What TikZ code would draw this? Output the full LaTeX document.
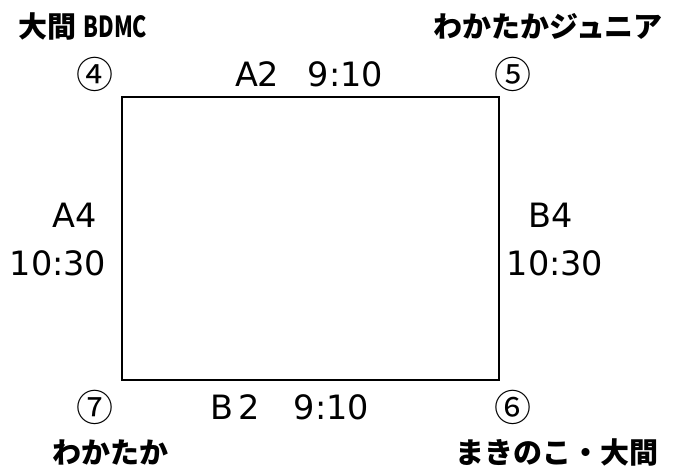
\documentclass[tikz,border=0pt]{standalone}
\usepackage{fontspec}
\setmainfont{Noto Sans CJK JP}
\newfontfamily\matchfont{DejaVu Sans}
\usetikzlibrary{positioning}

\begin{document}
\begin{tikzpicture}[x=1pt, y=-1pt]
\tikzstyle{court} = [rectangle, draw = black, line width=2pt, minimum width=377pt, minimum height=283pt, inner sep=0pt]
\tikzstyle{team} = [font=\fontsize{29}{31}\selectfont\bfseries, inner sep=0pt]
\tikzstyle{corner} = [font=\fontsize{37}{39}\selectfont, inner sep=0pt]
\tikzstyle{match} = [font=\fontsize{33.5}{35}\selectfont\matchfont, inner sep=0pt, align=center]
\useasboundingbox (0,0) rectangle (683,472);
\node (court) [court] at (310.5,238.5) {};
\node (n4) [corner] at (95,74) {④};
\node (n5) [corner] at (513,74) {⑤};
\node (n7) [corner] at (95,407) {⑦};
\node (n6) [corner] at (513,407) {⑥};
\node (oma) [team] at (83,26) {大間 \scalebox{0.74}[1]{BDMC}};
\node (junior) [team] at (548,26) {わかたかジュニア};
\node (waka) [team] at (110,452) {わかたか};
\node (maki) [team] at (557,452) {まきのこ・大間};
\node (a2) [match] at (309,74) {A2\hspace{0.85em}9:10};
\node (b2) [match] at (290,407) {B\hspace{0.15em}2\hspace{1em}9:10};
\node (a4) [match] at (75,215) {A4};
\node (a4t) [match] at (58,263) {10:30};
\node (b4) [match] at (551,215) {B4};
\node (b4t) [match] at (555,263) {10:30};
\end{tikzpicture}
\end{document}
